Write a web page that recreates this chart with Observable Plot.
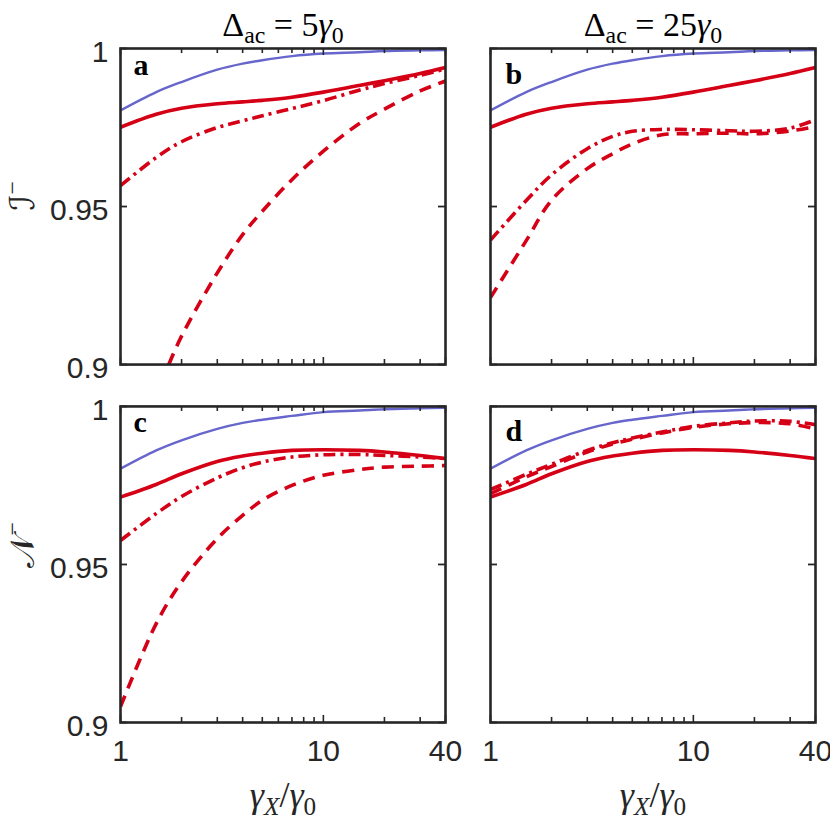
<!DOCTYPE html>
<html>
<head>
<meta charset="utf-8">
<script src="https://cdn.jsdelivr.net/npm/d3@7"></script>
<script src="https://cdn.jsdelivr.net/npm/@observablehq/plot@0.6"></script>
<style>
  body { margin: 0; background: #fff; }
  #chart { width: 830px; height: 830px; }
</style>
</head>
<body>
<div id="chart"></div>
<script>
// ---------- data ----------
const xGrid = [1, 1.5, 2, 3, 4, 5, 7, 10, 15, 20, 30, 40];
const xDashedA = [1.73, 2, 3, 4, 5, 7, 10, 15, 20, 30, 40];

const columns = ["5", "25"];
const rows = ["I", "N"];
const columnTitles = ["Δ_{ac} = 5γ_{0}", "Δ_{ac} = 25γ_{0}"];
const rowLabels = ["ℐ^{−}", "𝒩^{−}"];
const xLabel = "γ_{X}/γ_{0}";
const panelLetters = ["a", "b", "c", "d"];
const xTickLabels = [1, 10, 40];
const xMinorTicks = [2, 3, 4, 5, 6, 7, 8, 9, 20, 30];
const yTickLabels = [0.9, 0.95, 1];

// panel a (I−, Δac = 5γ0)
const aBlue    = [0.9804, 0.9862, 0.9894, 0.9933, 0.9952, 0.9963, 0.9976, 0.9984, 0.9988, 0.9992, 0.9994, 0.9995];
const aSolid   = [0.9751, 0.9792, 0.9811, 0.9825, 0.9831, 0.9836, 0.9846, 0.9862, 0.9883, 0.9898, 0.9921, 0.9940];
const aDashDot = [0.9566, 0.9655, 0.9705, 0.9750, 0.9771, 0.9787, 0.9810, 0.9835, 0.9868, 0.9889, 0.9915, 0.9935];
const aDashed  = [0.9000, 0.9090, 0.9290, 0.9411, 0.9485, 0.9585, 0.9675, 0.9762, 0.9808, 0.9866, 0.9897];

// panel b (I−, Δac = 25γ0)
const bBlue    = [0.9804, 0.9862, 0.9894, 0.9933, 0.9952, 0.9963, 0.9976, 0.9984, 0.9988, 0.9992, 0.9994, 0.9995];
const bSolid   = [0.9751, 0.9792, 0.9811, 0.9825, 0.9831, 0.9836, 0.9846, 0.9862, 0.9883, 0.9898, 0.9921, 0.9940];
const bDashDot = [0.9394, 0.9519, 0.9600, 0.9683, 0.9722, 0.9738, 0.9744, 0.9743, 0.9740, 0.9738, 0.9748, 0.9775];
const bDashed  = [0.9212, 0.9392, 0.9520, 0.9620, 0.9667, 0.9698, 0.9727, 0.9730, 0.9732, 0.9730, 0.9739, 0.9753];

// panel c (N−, Δac = 5γ0)
const cBlue    = [0.9803, 0.9861, 0.9893, 0.9929, 0.9948, 0.9958, 0.9970, 0.9982, 0.9987, 0.9991, 0.9994, 0.9996];
const cSolid   = [0.9713, 0.9753, 0.9787, 0.9826, 0.9843, 0.9852, 0.9861, 0.9863, 0.9861, 0.9856, 0.9845, 0.9835];
const cDashDot = [0.9576, 0.9661, 0.9715, 0.9774, 0.9806, 0.9824, 0.9840, 0.9847, 0.9848, 0.9845, 0.9840, 0.9835];
const cDashed  = [0.9050, 0.9313, 0.9445, 0.9582, 0.9655, 0.9703, 0.9750, 0.9782, 0.9800, 0.9808, 0.9811, 0.9813];

// panel d (N−, Δac = 25γ0)
const dBlue    = [0.9803, 0.9861, 0.9893, 0.9929, 0.9948, 0.9958, 0.9970, 0.9982, 0.9987, 0.9991, 0.9994, 0.9996];
const dSolid   = [0.9713, 0.9753, 0.9787, 0.9826, 0.9843, 0.9852, 0.9861, 0.9863, 0.9861, 0.9856, 0.9845, 0.9835];
const dDashDot = [0.9737, 0.9785, 0.9817, 0.9861, 0.9885, 0.9900, 0.9919, 0.9937, 0.9948, 0.9954, 0.9953, 0.9942];
const dDashed  = [0.9724, 0.9777, 0.9810, 0.9856, 0.9881, 0.9896, 0.9916, 0.9934, 0.9945, 0.9949, 0.9945, 0.9929];

// ---------- build tables ----------
const panels = [
  {letter: "a", col: columns[0], row: rows[0], blue: aBlue, solid: aSolid, dashdot: aDashDot, dashed: aDashed, dashedX: xDashedA},
  {letter: "b", col: columns[1], row: rows[0], blue: bBlue, solid: bSolid, dashdot: bDashDot, dashed: bDashed},
  {letter: "c", col: columns[0], row: rows[1], blue: cBlue, solid: cSolid, dashdot: cDashDot, dashed: cDashed},
  {letter: "d", col: columns[1], row: rows[1], blue: dBlue, solid: dSolid, dashdot: dDashDot, dashed: dDashed}
];
const kinds = ["blue", "solid", "dashdot", "dashed"];
const lineData = [];
for (const p of panels) {
  for (const kind of kinds) {
    const ys = p[kind];
    const xsK = (kind === "dashed" && p.dashedX) ? p.dashedX : xGrid;
    ys.forEach((v, i) => lineData.push({panel: p.letter, col: p.col, row: p.row, kind, x: xsK[i], y: v}));
  }
}
const letterData = panels.map((p, i) => ({col: p.col, row: p.row, text: panelLetters[i]}));
const titleData = columns.map((c, i) => ({col: c, row: rows[0], text: columnTitles[i]}));
const rowLabelData = rows.map((r, i) => ({col: columns[0], row: r, text: rowLabels[i]}));
const xLabelData = columns.map(c => ({col: c, row: rows[1], text: xLabel}));

const RED = "#d50016";
const BLUE = "#6666cc";
const INK = "#262626";
const SERIF = "'Liberation Serif', 'DejaVu Serif', 'DejaVu Sans', serif";

const styles = {
  blue:    {stroke: BLUE, strokeWidth: 2.4},
  solid:   {stroke: RED, strokeWidth: 3.6},
  dashdot: {stroke: RED, strokeWidth: 3.6, strokeDasharray: "12,5,3,5"},
  dashed:  {stroke: RED, strokeWidth: 3.6, strokeDasharray: "12,8"}
};

const BW = 325, BH = 316; // approx facet band size for tick insets

const chart = Plot.plot({
  width: 830,
  height: 830,
  marginLeft: 120,
  marginRight: 15,
  marginTop: 48,
  marginBottom: 108,
  style: {fontFamily: "'Liberation Sans', Arial, sans-serif", fontSize: "30px", color: INK, background: "white", overflow: "visible"},
  x: {type: "log", domain: [1, 40]},
  y: {domain: [0.9, 1]},
  fx: {domain: columns, paddingInner: 0.1216, paddingOuter: 0, round: false, axis: null, label: null},
  fy: {domain: rows, paddingInner: 0.117, paddingOuter: 0, round: false, axis: null, label: null},
  marks: [
    ...kinds.map(kind => Plot.line(lineData.filter(d => d.kind === kind), {
      x: "x", y: "y", z: "panel", fx: "col", fy: "row",
      curve: "catmull-rom", clip: true, strokeLinecap: "butt", strokeLinejoin: "round",
      ...styles[kind]
    })),
    // inward ticks (bottom/top)
    Plot.ruleX(xMinorTicks, {x: d => d, stroke: INK, strokeWidth: 1.6, insetTop: BH - 5}),
    Plot.ruleX(xMinorTicks, {x: d => d, stroke: INK, strokeWidth: 1.6, insetBottom: BH - 5}),
    Plot.ruleX(xTickLabels, {x: d => d, stroke: INK, strokeWidth: 1.6, insetTop: BH - 7}),
    Plot.ruleX(xTickLabels, {x: d => d, stroke: INK, strokeWidth: 1.6, insetBottom: BH - 7}),
    // inward ticks (left/right)
    Plot.ruleY(yTickLabels, {y: d => d, stroke: INK, strokeWidth: 1.8, insetRight: BW - 7}),
    Plot.ruleY(yTickLabels, {y: d => d, stroke: INK, strokeWidth: 1.8, insetLeft: BW - 7}),
    Plot.frame({stroke: INK, strokeWidth: 2.6}),
    // tick labels
    Plot.axisX({anchor: "bottom", ticks: xTickLabels, tickSize: 0, tickPadding: 17, tickFormat: d => String(d), label: null, fill: INK, fontSize: 30}),
    Plot.axisY({anchor: "left", ticks: yTickLabels, tickSize: 0, tickPadding: 12, tickFormat: d => String(d), label: null, fill: INK, fontSize: 30, dy: 4}),
    // panel letters
    Plot.text(letterData.filter(d => d.col === columns[0]), {fx: "col", fy: "row", text: "text", frameAnchor: "top-left", textAnchor: "start", lineAnchor: "bottom", dx: 13, dy: 26, fontFamily: SERIF, fontWeight: "bold", fontSize: 30, fill: "black"}),
    Plot.text(letterData.filter(d => d.col === columns[1]), {fx: "col", fy: "row", text: "text", frameAnchor: "top-left", textAnchor: "start", lineAnchor: "bottom", dx: 15, dy: 35, fontFamily: SERIF, fontWeight: "bold", fontSize: 30, fill: "black"}),
    // column titles
    Plot.text(titleData, {fx: "col", fy: "row", text: "text", frameAnchor: "top", lineAnchor: "bottom", dy: -13, fontFamily: SERIF, fontSize: 34, fill: "black"}),
    // row labels
    Plot.text(rowLabelData, {fx: "col", fy: "row", text: "text", frameAnchor: "left", rotate: -90, dx: -97, dy: 4, fontFamily: SERIF, fontSize: 34, fill: INK}),
    // x labels
    Plot.text(xLabelData, {fx: "col", fy: "row", text: "text", frameAnchor: "bottom", lineAnchor: "middle", dy: 73, fontFamily: SERIF, fontSize: 36, fill: INK})
  ]
});

document.getElementById("chart").appendChild(chart);

// ---------- rich text: _{sub}, ^{sup}, italic math letters ----------
const NS = "http://www.w3.org/2000/svg";
function richText(el, src) {
  const F = parseFloat(getComputedStyle(el).fontSize) || 30;
  const tokens = [];
  let i = 0;
  const isMark = k => (src[k] === "_" || src[k] === "^") && src[k + 1] === "{";
  while (i < src.length) {
    if (isMark(i)) {
      const j = src.indexOf("}", i);
      tokens.push({t: src.slice(i + 2, j), s: src[i] === "_" ? 1 : -1});
      i = j + 1;
    } else {
      let j = i;
      while (j < src.length && !isMark(j)) j++;
      tokens.push({t: src.slice(i, j), s: 0});
      i = j;
    }
  }
  el.textContent = "";
  el.setAttribute("font-family", SERIF);
  let cur = 0;
  for (const tk of tokens) {
    const runs = tk.t.match(/[α-ωA-Z]+|[^α-ωA-Z]+/g) || [];
    for (const r of runs) {
      const ts = document.createElementNS(NS, "tspan");
      ts.textContent = r;
      ts.setAttribute("font-family", SERIF);
      if (/[α-ωA-Z]/.test(r)) ts.setAttribute("font-style", "italic");
      const target = tk.s === 1 ? 0.22 * F : tk.s === -1 ? -0.42 * F : 0;
      if (target !== cur) { ts.setAttribute("dy", (target - cur).toFixed(2)); cur = target; }
      if (tk.s) ts.setAttribute("font-size", (0.7 * F).toFixed(1));
      el.appendChild(ts);
    }
  }
}
d3.select(chart).selectAll("text").each(function() {
  const s = this.textContent;
  if (/[_^]\{/.test(s)) richText(this, s);
});
</script>
</body>
</html>
